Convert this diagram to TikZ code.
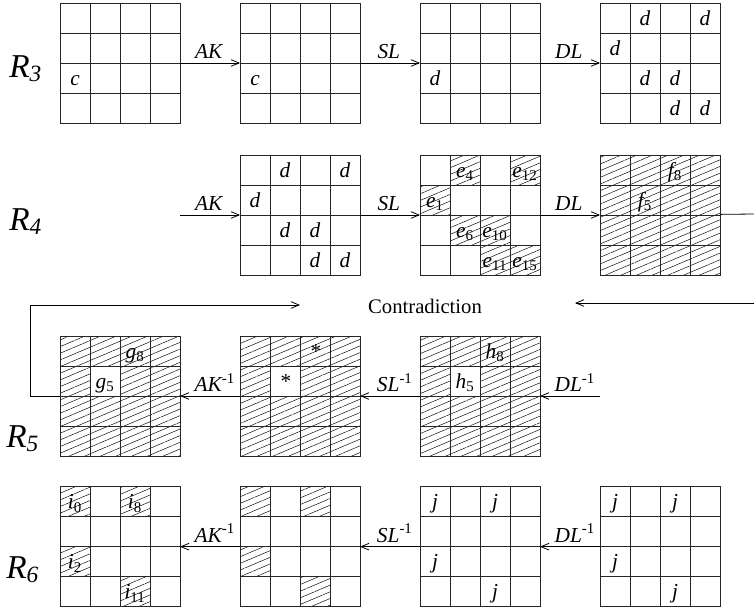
\documentclass[tikz,border=0pt]{standalone}
\usepackage{fontspec}
\setmainfont{Liberation Serif}
\usetikzlibrary{arrows.meta,positioning,patterns.meta}

\newcommand{\ent}[2]{\textit{#1}\textsubscript{\upshape #2}}
\newcommand{\inv}[1]{\textit{#1}\textsuperscript{\upshape -1}}

\tikzset{
  board/.style={rectangle,minimum size=90pt,inner sep=0pt,outer sep=0pt},
  gridline/.style={line width=0.6pt,color=black!85},
  hatch/.style={pattern={Lines[angle=23,distance=4.6pt,line width=0.35pt]}},
  celltxt/.style={anchor=base,inner sep=0pt,
    font=\fontsize{16}{18}\selectfont\itshape},
  oplbl/.style={above,inner sep=3pt,
    font=\fontsize{16}{18}\selectfont\itshape},
  rlbl/.style={anchor=base west,inner sep=0pt,
    font=\fontsize{25}{30}\selectfont\itshape},
  arr/.style={-{Straight Barb[length=6pt,width=5pt]},line width=0.6pt},
  plain/.style={line width=0.6pt},
}

\newcommand{\gridlines}[1]{%
  \begin{scope}[shift={(#1.north west)},x=22.5pt,y=-22.5pt]
    \foreach \k in {1,2,3} {
      \draw[gridline] (\k,0) -- (\k,4);
      \draw[gridline] (0,\k) -- (4,\k);
    }
    \draw[gridline] (0,0) rectangle (4,4);
  \end{scope}}
\newcommand{\hatchcells}[2]{%
  \begin{scope}[shift={(#1.north west)},x=22.5pt,y=-22.5pt]
    \foreach \col/\row in {#2} \fill[hatch] (\col,\row) rectangle ++(1,1);
  \end{scope}}
\newcommand{\clearcell}[3]{%
  \begin{scope}[shift={(#1.north west)},x=22.5pt,y=-22.5pt]
    \fill[white] (#2,#3) rectangle ++(1,1);
  \end{scope}}
\newcommand{\cellmarks}[2]{%
  \begin{scope}[shift={(#1.north west)},x=22.5pt,y=-22.5pt]
    \foreach \col/\row/\txt in {#2} \node[celltxt] at (\col+0.5,\row+0.74) {\txt};
  \end{scope}}

\begin{document}
\begin{tikzpicture}[x=0.75pt,y=-0.75pt,node distance=45pt]
  \useasboundingbox (0,0) rectangle (754,612);

  % boards
  \node[board] (a1) at (120,63) {};
  \node[board,right=of a1] (a2) {};
  \node[board,right=of a2] (a3) {};
  \node[board,right=of a3] (a4) {};

  \node[board,below=24pt of a2] (b1) {};
  \node[board,right=of b1] (b2) {};
  \node[board,right=of b2] (b3) {};

  \node[board] (c1) at (120,396) {};
  \node[board,right=of c1] (c2) {};
  \node[board,right=of c2] (c3) {};

  \node[board,below=23pt of c1] (d1) {};
  \node[board,right=of d1] (d2) {};
  \node[board,right=of d2] (d3) {};
  \node[board,right=of d3] (d4) {};

  \node[rlbl] (r3) at (9,77) {R\textsubscript{3}};
  \node[rlbl] (r4) at (9,230) {R\textsubscript{4}};
  \node[rlbl] (r5) at (6,447) {R\textsubscript{5}};
  \node[rlbl] (r6) at (6,578) {R\textsubscript{6}};

  % hatching
  \foreach \b in {b3,c1,c2,c3}
    \fill[hatch] (\b.north west) rectangle (\b.south east);
  \foreach \b in {c1,c2,c3}
    \clearcell{\b}{1}{1};
  \hatchcells{b2}{1/0,3/0,0/1,1/2,2/2,2/3,3/3}
  \hatchcells{d1}{0/0,2/0,0/2,2/3}
  \hatchcells{d2}{0/0,2/0,0/2,2/3}

  \foreach \b in {a1,a2,a3,a4,b1,b2,b3,c1,c2,c3,d1,d2,d3,d4}
    \gridlines{\b};

  % cell entries
  \cellmarks{a1}{0/2/c}
  \cellmarks{a2}{0/2/c}
  \cellmarks{a3}{0/2/d}
  \cellmarks{a4}{1/0/d,3/0/d,0/1/d,1/2/d,2/2/d,2/3/d,3/3/d}
  \cellmarks{b1}{1/0/d,3/0/d,0/1/d,1/2/d,2/2/d,2/3/d,3/3/d}
  \cellmarks{b2}{1/0/{\ent{e}{4}},3/0/{\ent{e}{12}},0/1/{\ent{e}{1}},
    1/2/{\ent{e}{6}},2/2/{\ent{e}{10}},2/3/{\ent{e}{11}},3/3/{\ent{e}{15}}}
  \cellmarks{b3}{2/0/{\ent{f}{8}},1/1/{\ent{f}{5}}}
  \cellmarks{c1}{2/0/{\ent{g}{8}},1/1/{\ent{g}{5}}}
  \cellmarks{c2}{2/0/*,1/1/*}
  \cellmarks{c3}{2/0/{\ent{h}{8}},1/1/{\ent{h}{5}}}
  \cellmarks{d1}{0/0/{\ent{i}{0}},2/0/{\ent{i}{8}},0/2/{\ent{i}{2}},2/3/{\ent{i}{11}}}
  \cellmarks{d3}{0/0/j,2/0/j,0/2/j,2/3/j}
  \cellmarks{d4}{0/0/j,2/0/j,0/2/j,2/3/j}

  % connectors
  \coordinate[left=of b1] (b0);
  \coordinate (fOut) at (754,214);
  \coordinate[right=of c3] (c0);

  \foreach \from/\to/\op in {a1/a2/AK,a2/a3/SL,a3/a4/DL,b0/b1/AK,b1/b2/SL,b2/b3/DL}
    \draw[arr] (\from) -- node[oplbl,pos=0.48]{\op} (\to);
  \foreach \from/\to/\op in {c2/c1/AK,c3/c2/SL,c0/c3/DL,d2/d1/AK,d3/d2/SL,d4/d3/DL}
    \draw[arr] (\from) -- node[oplbl,pos=0.42]{\inv{\op}} (\to);

  \draw[plain] (b3) -- (fOut);

  \node[font=\fontsize{15.5}{18}\selectfont] (contra) at (425,306) {Contradiction};
  \coordinate (loopL) at (30,305);
  \coordinate (ctrL) at (300,305);
  \coordinate (rEdge) at (754,303);
  \coordinate (ctrR) at (575,303);
  \draw[arr] (c1.west) -| (loopL) -- (ctrL);
  \draw[arr] (rEdge) -- (ctrR);

\end{tikzpicture}
\end{document}
